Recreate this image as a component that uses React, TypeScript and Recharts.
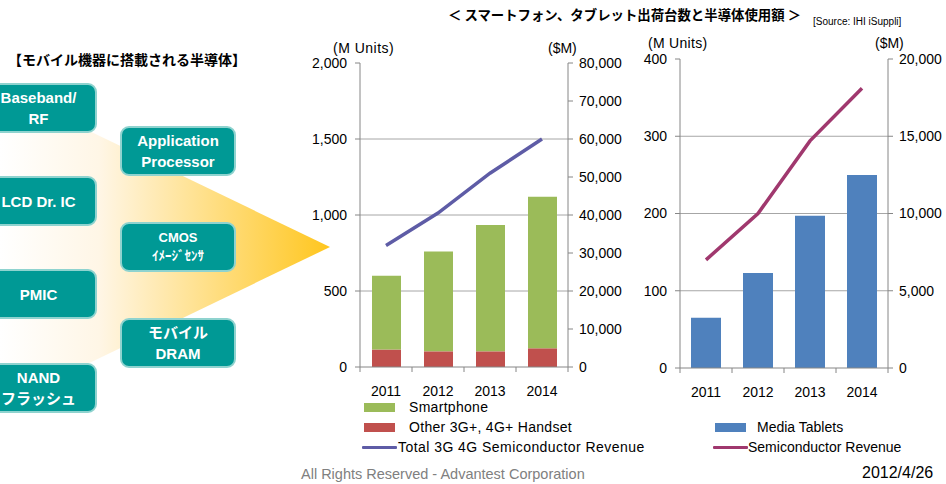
import React from "react";
import { ComposedChart, Bar, Line, XAxis, YAxis, CartesianGrid } from "recharts";

const years = ["2011", "2012", "2013", "2014"];
const smartphone = [485, 657, 832, 997];
const otherHandset = [115, 103, 103, 123];
const handsetRevenue = [32000, 40500, 51000, 60000];
const mediaTablets = [65, 123, 197, 250];
const tabletRevenue = [7000, 10000, 14700, 18100];

const leftUnitTicks = [0, 500, 1000, 1500, 2000];
const leftRevTicks = [0, 10000, 20000, 30000, 40000, 50000, 60000, 70000, 80000];
const rightUnitTicks = [0, 100, 200, 300, 400];
const rightRevTicks = [0, 5000, 10000, 15000, 20000];

const leftBoxes = [
  { top: 83, lines: ["Baseband/", "RF"] },
  { top: 176, lines: ["LCD Dr. IC"] },
  { top: 269, lines: ["PMIC"] },
  { top: 363, lines: ["NAND", "フラッシュ"] },
];
const rightBoxes = [
  { top: 126, lines: ["Application", "Processor"], small: false },
  { top: 222, lines: ["CMOS", "ｲﾒｰｼﾞｾﾝｻ"], small: true },
  { top: 318, lines: ["モバイル", "DRAM"], small: false },
];

const leftData = years.map((y, i) => ({
  year: y,
  smartphone: smartphone[i],
  other: otherHandset[i],
  revenue: handsetRevenue[i],
}));
const rightData = years.map((y, i) => ({
  year: y,
  tablets: mediaTablets[i],
  revenue: tabletRevenue[i],
}));

const FONT = "'Liberation Sans', Arial, 'Noto Sans CJK JP', sans-serif";
const JP = "'Noto Sans CJK JP', 'Liberation Sans', sans-serif";
const AXIS = "#868686";
const GRID = "#A6A6A6";
const fmt = (v: number) => v.toLocaleString("en-US");

function YearTick(props: any) {
  const { x, y, payload, index, visibleTicksCount } = props;
  const half = payload && payload.offset ? payload.offset : 26;
  const last = index === (visibleTicksCount ?? 4) - 1;
  return (
    <g>
      <line x1={x - half} x2={x - half} y1={y} y2={y + 5} stroke={AXIS} />
      {last && <line x1={x + half} x2={x + half} y1={y} y2={y + 5} stroke={AXIS} />}
      <text x={x} y={y + 29} textAnchor="middle" fontSize={14} fill="#000" fontFamily={FONT}>
        {payload.value}
      </text>
    </g>
  );
}

function Chip({ left, top, width, lines, small }: any) {
  return (
    <div
      style={{
        position: "absolute",
        left,
        top,
        width,
        height: 50,
        boxSizing: "border-box",
        background: "#009995",
        border: "2px solid #8FD3CF",
        borderRadius: 9,
        color: "#fff",
        fontFamily: FONT,
        fontWeight: "bold",
        display: "flex",
        flexDirection: "column",
        justifyContent: "center",
        alignItems: "center",
        lineHeight: small ? "18px" : "21px",
        fontSize: small ? 13 : 15,
      }}
    >
      {lines.map((l: string) => (
        <div key={l}>{l}</div>
      ))}
    </div>
  );
}

const label = (left: number, top: number, text: string, extra: any = {}) => (
  <div
    style={{
      position: "absolute",
      left,
      top,
      fontFamily: FONT,
      fontSize: 14,
      color: "#000",
      whiteSpace: "nowrap",
      lineHeight: "16px",
      ...extra,
    }}
  >
    {text}
  </div>
);

const legendText = { letterSpacing: 0.3 };

const swatch = (left: number, top: number, color: string) => (
  <div style={{ position: "absolute", left, top, width: 31, height: 9, background: color }} />
);
const lineSwatch = (left: number, top: number, color: string) => (
  <div style={{ position: "absolute", left, top, width: 35, height: 3, background: color, borderRadius: 1 }} />
);

export default function App() {
  return (
    <div
      style={{
        position: "absolute",
        left: 0,
        top: 0,
        width: 946,
        height: 484,
        overflow: "hidden",
        background: "#fff",
      }}
    >
      <svg width={946} height={484} style={{ position: "absolute", left: 0, top: 0 }}>
        <defs>
          <linearGradient id="arrow" x1={0} x2={330} y1={0} y2={0} gradientUnits="userSpaceOnUse">
            <stop offset="0" stopColor="#FFFFFF" />
            <stop offset="0.3" stopColor="#FFF6E6" />
            <stop offset="1" stopColor="#FFC61E" />
          </linearGradient>
        </defs>
        <polygon points="0,88 330,247 0,406" fill="url(#arrow)" />
      </svg>

      {label(8, 51, "【モバイル機器に搭載される半導体】", { fontFamily: JP, fontWeight: "bold", fontSize: 14 })}
      {leftBoxes.map((b) => (
        <Chip key={b.top} left={-20} top={b.top} width={117} lines={b.lines} />
      ))}
      {rightBoxes.map((b) => (
        <Chip key={b.top} left={120} top={b.top} width={116} lines={b.lines} small={b.small} />
      ))}

      {label(448, 6, "＜ スマートフォン、タブレット出荷台数と半導体使用額 ＞", {
        fontFamily: JP,
        fontWeight: "bold",
        fontSize: 13.4,
      })}
      {label(813, 14, "[Source: IHI iSuppli]", { fontSize: 10 })}

      {label(333, 40, "(M Units)", { letterSpacing: 0.5 })}
      {label(548, 40, "($M)")}
      {label(648, 36, "(M Units)", { letterSpacing: 0.3, lineHeight: "14px" })}
      {label(875, 36, "($M)", { lineHeight: "14px" })}

      <div style={{ position: "absolute", left: 300, top: 40 }}>
        <ComposedChart
          width={330}
          height={370}
          data={leftData}
          margin={{ top: 23, right: 0, bottom: 0, left: 0 }}
          barSize={29}
        >
          <CartesianGrid vertical={false} horizontalValues={[500, 1000, 1500]} stroke={GRID} />
          <XAxis
            dataKey="year"
            height={43}
            interval={0}
            tickSize={0}
            tickMargin={0}
            tick={<YearTick />}
            axisLine={{ stroke: AXIS }}
          />
          <YAxis
            width={60}
            domain={[0, 2000]}
            ticks={leftUnitTicks}
            tickFormatter={fmt}
            tick={{ fill: "#000", fontSize: 14, fontFamily: FONT }}
            tickSize={5}
            tickMargin={8}
            axisLine={{ stroke: AXIS }}
            tickLine={{ stroke: AXIS }}
          />
          <YAxis
            yAxisId="rev"
            orientation="right"
            width={62}
            domain={[0, 80000]}
            ticks={leftRevTicks}
            tickFormatter={fmt}
            tick={{ fill: "#000", fontSize: 14, fontFamily: FONT, textAnchor: "start" }}
            tickSize={5}
            tickMargin={6}
            axisLine={{ stroke: AXIS }}
            tickLine={{ stroke: AXIS }}
          />
          <Bar dataKey="other" stackId="h" fill="#C0504D" isAnimationActive={false} />
          <Bar dataKey="smartphone" stackId="h" fill="#9BBB59" isAnimationActive={false} />
          <Line
            yAxisId="rev"
            dataKey="revenue"
            type="linear"
            stroke="#5E5CA6"
            strokeWidth={3.5}
            dot={false}
            isAnimationActive={false}
          />
        </ComposedChart>
      </div>

      <div style={{ position: "absolute", left: 620, top: 40 }}>
        <ComposedChart
          width={326}
          height={370}
          data={rightData}
          margin={{ top: 19, right: 0, bottom: 0, left: 0 }}
          barSize={30}
        >
          <CartesianGrid vertical={false} horizontalValues={[100, 200, 300]} stroke={GRID} />
          <XAxis
            dataKey="year"
            height={42}
            interval={0}
            tickSize={0}
            tickMargin={0}
            tick={<YearTick />}
            axisLine={{ stroke: AXIS }}
          />
          <YAxis
            width={60}
            domain={[0, 400]}
            ticks={rightUnitTicks}
            tickFormatter={fmt}
            tick={{ fill: "#000", fontSize: 14, fontFamily: FONT }}
            tickSize={5}
            tickMargin={8}
            axisLine={{ stroke: AXIS }}
            tickLine={{ stroke: AXIS }}
          />
          <YAxis
            yAxisId="rev"
            orientation="right"
            width={58}
            domain={[0, 20000]}
            ticks={rightRevTicks}
            tickFormatter={fmt}
            tick={{ fill: "#000", fontSize: 14, fontFamily: FONT, textAnchor: "start" }}
            tickSize={5}
            tickMargin={6}
            axisLine={{ stroke: AXIS }}
            tickLine={{ stroke: AXIS }}
          />
          <Bar dataKey="tablets" fill="#4F81BD" isAnimationActive={false} />
          <Line
            yAxisId="rev"
            dataKey="revenue"
            type="linear"
            stroke="#A0386E"
            strokeWidth={3.5}
            dot={false}
            isAnimationActive={false}
          />
        </ComposedChart>
      </div>

      {swatch(364, 403, "#9BBB59")}
      {label(409, 399, "Smartphone", legendText)}
      {swatch(364, 423, "#C0504D")}
      {label(409, 419, "Other 3G+, 4G+ Handset", legendText)}
      {lineSwatch(362, 446, "#5E5CA6")}
      {label(398, 439, "Total 3G 4G Semiconductor Revenue", { letterSpacing: 0.45 })}

      {swatch(715, 423, "#4F81BD")}
      {label(757, 419, "Media Tablets", { letterSpacing: 0 })}
      {lineSwatch(713, 446, "#A0386E")}
      {label(748, 439, "Semiconductor Revenue", { letterSpacing: 0 })}

      {label(301, 466, "All Rights Reserved - Advantest Corporation", { fontSize: 14.5, color: "#808080" })}
      {label(862, 465, "2012/4/26", { fontSize: 16 })}
    </div>
  );
}
